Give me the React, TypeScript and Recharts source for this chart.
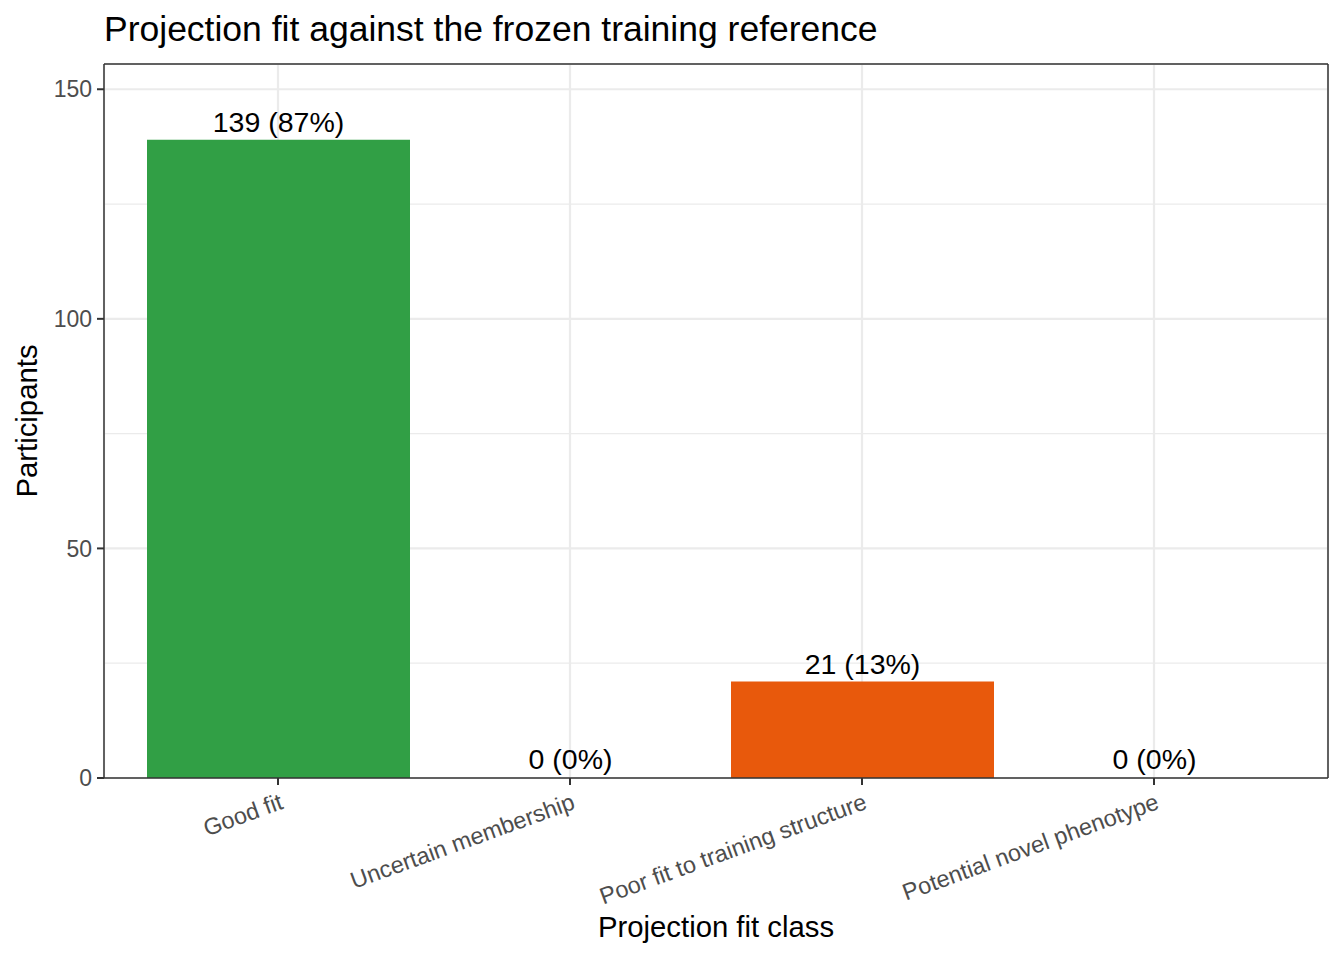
import { Bar, BarChart, CartesianGrid, Cell, LabelList, XAxis, YAxis } from 'recharts';

const categories = ['Good fit', 'Uncertain membership', 'Poor fit to training structure', 'Potential novel phenotype'];
const counts = [139, 0, 21, 0];
const percents = [87, 0, 13, 0];
const barColors = ['#319F45', '#319F45', '#E8590C', '#E8590C'];
const yTicks = [0, 50, 100, 150];
const yMinor = [25, 75, 125];

const FONT = '"Liberation Sans", Arial, Helvetica, sans-serif';

const data = categories.map((cat, i) => ({
  cat,
  count: counts[i],
  label: `${counts[i]} (${percents[i]}%)`,
}));

function XTick({ x, y, payload }: any) {
  return (
    <g transform={`translate(${x},${y})`}>
      <text
        x={0}
        y={0}
        dy="0.78em"
        textAnchor="end"
        transform="rotate(-20)"
        fill="#4D4D4D"
        fontSize={23.5}
        fontFamily={FONT}
      >
        {payload.value}
      </text>
    </g>
  );
}

export default function App() {
  return (
    <div style={{ position: 'absolute', left: 0, top: 0, width: 1344, height: 960, background: '#fff' }}>
      <BarChart width={1344} height={960} data={data} margin={{ top: 63, right: 15, bottom: 0, left: 0 }}>
        <CartesianGrid horizontalValues={yMinor} vertical={false} stroke="#EBEBEB" strokeWidth={1.2} />
        <CartesianGrid stroke="#EBEBEB" strokeWidth={2.2} />
        <XAxis
          dataKey="cat"
          height={182}
          padding={{ left: 28, right: 28 }}
          interval={0}
          tick={<XTick />}
          tickSize={7}
          tickMargin={6}
          axisLine={{ stroke: '#333333', strokeWidth: 1.5 }}
          tickLine={{ stroke: '#333333', strokeWidth: 2 }}
        />
        <XAxis
          xAxisId="top"
          dataKey="cat"
          orientation="top"
          height={1}
          tick={false}
          tickLine={false}
          axisLine={{ stroke: '#333333', strokeWidth: 1.5 }}
        />
        <YAxis
          width={104}
          domain={[0, 155.5]}
          ticks={yTicks}
          tickSize={7}
          tickMargin={5}
          tick={{ fill: '#4D4D4D', fontSize: 23, fontFamily: FONT }}
          axisLine={{ stroke: '#333333', strokeWidth: 1.5 }}
          tickLine={{ stroke: '#333333', strokeWidth: 2 }}
        />
        <YAxis
          yAxisId="right"
          orientation="right"
          width={1}
          tick={false}
          tickLine={false}
          axisLine={{ stroke: '#333333', strokeWidth: 1.5 }}
        />
        <Bar dataKey="count" barSize={263} minPointSize={1} isAnimationActive={false}>
          {data.map((d, i) => (
            <Cell key={d.cat} fill={barColors[i]} fillOpacity={d.count === 0 ? 0 : 1} />
          ))}
          <LabelList dataKey="label" position="top" offset={8} fill="#000" fontSize={28.5} fontFamily={FONT} />
        </Bar>
      </BarChart>
      <svg width={1344} height={960} style={{ position: 'absolute', left: 0, top: 0, pointerEvents: 'none' }}>
        <text x={104} y={41} fontSize={35.5} fontFamily={FONT} fill="#000">
          Projection fit against the frozen training reference
        </text>
        <text x={716} y={937} textAnchor="middle" fontSize={29.3} fontFamily={FONT} fill="#000">
          Projection fit class
        </text>
        <text transform="translate(37,421) rotate(-90)" textAnchor="middle" fontSize={29.3} fontFamily={FONT} fill="#000">
          Participants
        </text>
      </svg>
    </div>
  );
}
